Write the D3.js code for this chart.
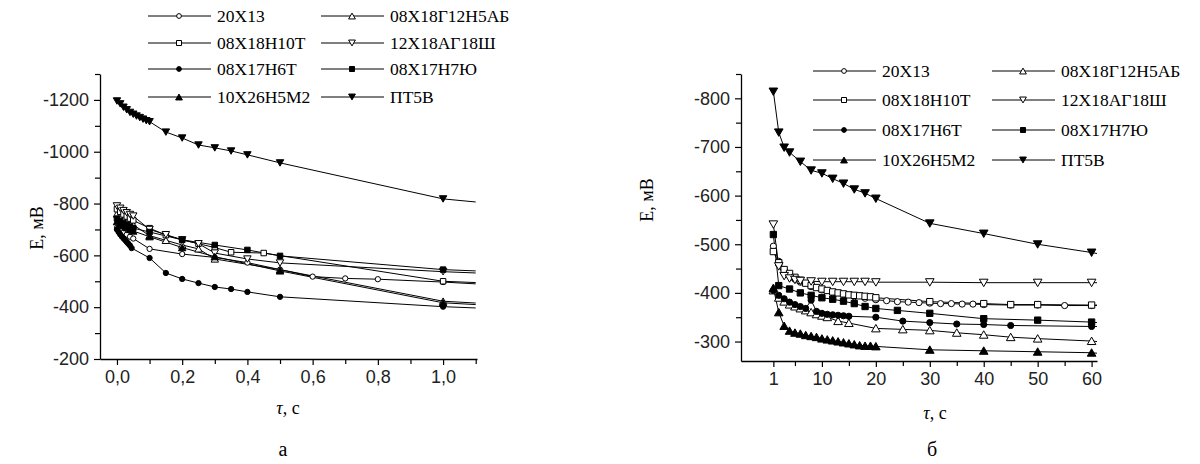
<!DOCTYPE html>
<html><head><meta charset="utf-8">
<script src="https://cdn.jsdelivr.net/npm/d3@7"></script>
<style>body{margin:0;background:#fff}</style>
</head><body><svg id="c" width="1200" height="464"></svg>
<script>
// ---------- DATA ----------
const seriesNames = ["20Х13","08Х18Г12Н5АБ","08Х18Н10Т","12Х18АГ18Ш","08Х17Н6Т","08Х17Н7Ю","10Х26Н5М2","ПТ5В"];
const seriesMarkers = ["circleOpen","triUpOpen","squareOpen","triDownOpen","circle","square","triUp","triDown"];

// panel а : time (s) and potential (mV)
const leftTimes = [
  [0,0.01,0.02,0.03,0.04,0.05,0.1,0.2,0.3,0.4,0.5,0.6,0.7,0.8,1.0],
  [0,0.01,0.02,0.03,0.04,0.05,0.1,0.15,0.2,0.25,0.3,0.5,1.0],
  [0,0.01,0.02,0.03,0.04,0.05,0.1,0.15,0.2,0.25,0.3,0.35,0.45,1.0],
  [0,0.01,0.02,0.03,0.04,0.05,0.1,0.15,0.2,0.25,0.3,0.4,0.5,1.0],
  [0,0.005,0.01,0.015,0.02,0.025,0.03,0.035,0.04,0.045,0.1,0.15,0.2,0.25,0.3,0.35,0.4,0.5,1.0],
  [0,0.01,0.02,0.03,0.04,0.05,0.1,0.2,0.3,0.4,0.5,1.0],
  [0,0.01,0.02,0.03,0.04,0.05,0.1,0.2,0.3,0.5,1.0],
  [0,0.01,0.02,0.03,0.04,0.05,0.06,0.07,0.08,0.09,0.1,0.15,0.2,0.25,0.3,0.35,0.4,0.5,1.0]
];
const leftValues = [
  [-706,-697,-688,-680,-672,-665,-625,-605,-592,-572,-545,-518,-511,-508,-497],
  [-760,-750,-740,-732,-725,-718,-676,-658,-640,-625,-586,-545,-423],
  [-778,-768,-758,-750,-742,-735,-705,-678,-660,-645,-630,-612,-609,-500],
  [-791,-782,-773,-765,-758,-752,-700,-680,-660,-645,-609,-586,-571,-537],
  [-700,-690,-681,-673,-666,-659,-652,-645,-638,-628,-590,-532,-509,-493,-478,-470,-459,-440,-402],
  [-742,-733,-725,-718,-711,-705,-690,-660,-640,-621,-598,-545],
  [-730,-722,-714,-707,-700,-694,-672,-630,-595,-540,-417],
  [-1196,-1185,-1172,-1162,-1152,-1145,-1138,-1132,-1126,-1120,-1116,-1076,-1053,-1026,-1015,-1003,-988,-957,-818]
];
const leftEndTime = 1.1;
const leftEndValues = [-490,-416,-495,-532,-397,-540,-410,-806];

// panel б
const rightTimes = [
  [1,2,3,4,5,6,8,10,12,14,16,18,20,22,24,26,28,30,32,34,36,38,40,45,50,55,60],
  [1,2,3,4,5,6,7,8,9,10,11,13,15,20,25,30,35,40,45,50,60],
  [1,2,3,4,5,6,7,8,9,10,11,12,13,14,15,16,17,18,19,20,30,40,45,50,60],
  [1,2,3,4,5,6,8,10,12,14,16,18,20,30,40,50,60],
  [1,2,3,4,5,6,7,8,9,10,11,12,13,14,15,20,25,30,35,40,45,60],
  [1,2,4,6,8,10,12,14,16,18,20,24,30,40,50,60],
  [1,2,3,4,5,6,7,8,9,10,11,12,13,14,15,16,17,18,19,20,30,40,50,60],
  [1,2,3,4,6,8,10,12,14,16,18,20,30,40,50,60]
];
const rightValues = [
  [-496,-465,-447,-436,-428,-422,-413,-406,-400,-396,-392,-389,-386,-384,-382,-381,-380,-379,-378,-378,-377,-377,-376,-375,-375,-374,-374],
  [-405,-390,-382,-376,-372,-368,-364,-360,-356,-353,-350,-342,-338,-327,-325,-323,-318,-314,-309,-306,-301],
  [-485,-462,-448,-440,-432,-426,-420,-415,-411,-408,-405,-402,-400,-398,-396,-395,-394,-393,-392,-390,-382,-378,-376,-376,-375],
  [-541,-455,-435,-430,-427,-425,-424,-423,-423,-423,-423,-423,-422,-422,-421,-421,-421],
  [-405,-395,-388,-381,-376,-372,-368,-385,-362,-358,-356,-355,-354,-353,-352,-350,-342,-339,-336,-335,-333,-331],
  [-520,-415,-408,-400,-395,-390,-387,-383,-378,-372,-368,-364,-358,-347,-344,-340],
  [-410,-360,-332,-322,-318,-316,-313,-311,-309,-306,-304,-302,-300,-298,-296,-294,-292,-291,-291,-290,-283,-281,-279,-277],
  [-814,-730,-699,-689,-670,-652,-646,-635,-625,-613,-605,-594,-543,-522,-500,-483]
];
const rightEndTime = 61;
const rightEndValues = [-374,-300,-375,-421,-331,-339,-276,-481];

// ticks
const leftXTicks = [0,0.2,0.4,0.6,0.8,1.0];
const leftXMinor = [0.1,0.3,0.5,0.7,0.9,1.1];
const leftYTicks = [-200,-400,-600,-800,-1000,-1200];
const leftYMinor = [-300,-500,-700,-900,-1100,-1300];
const rightXTicks = [1,10,20,30,40,50,60];
const rightXMinor = [5,15,25,35,45,55];
const rightYTicks = [-300,-400,-500,-600,-700,-800];
const rightYMinor = [-350,-450,-550,-650,-750,-850];

// ---------- DRAW ----------
const svg = d3.select("#c");
const SANS = "'Liberation Sans', Arial, sans-serif";
const SERIF = "'Liberation Serif', 'Times New Roman', serif";

function markerPath(kind, size) {
  let type = d3.symbolCircle;
  if (kind.startsWith("square")) type = d3.symbolSquare;
  if (kind.startsWith("tri")) type = d3.symbolTriangle;
  return d3.symbol().type(type).size(size)();
}
function drawMarker(g, kind, x, y, sizes) {
  const s = kind.startsWith("circle") ? sizes.c : kind.startsWith("square") ? sizes.s : sizes.t;
  const open = kind.endsWith("Open");
  const rot = kind.startsWith("triDown") ? " rotate(180)" : "";
  const dy = kind.startsWith("triUp") ? 1 : kind.startsWith("triDown") ? -1 : 0;
  g.append("path").attr("d", markerPath(kind, s))
    .attr("transform", `translate(${x},${y + dy})${rot}`)
    .attr("fill", open ? "#fff" : "#000")
    .attr("stroke", "#000").attr("stroke-width", 1);
}

function panel(opts) {
  const g = svg.append("g");
  const x = d3.scaleLinear().domain(opts.xDomain).range(opts.xRange);
  const y = d3.scaleLinear().domain(opts.yDomain).range(opts.yRange);

  g.append("g").attr("transform", `translate(0,${opts.yRange[0]})`)
    .call(d3.axisBottom(x).tickValues(opts.xTicks).tickSize(6).tickSizeOuter(0).tickPadding(5).tickFormat(opts.xFmt));
  g.append("g").attr("transform", `translate(0,${opts.yRange[0]})`)
    .call(d3.axisBottom(x).tickValues(opts.xMinor).tickSize(5).tickSizeOuter(0).tickFormat(""))
    .select(".domain").remove();
  g.append("g").attr("transform", `translate(${opts.xRange[0]},0)`)
    .call(d3.axisLeft(y).tickValues(opts.yTicks).tickSize(6).tickSizeOuter(0).tickPadding(5).tickFormat(d => "-" + Math.abs(d)));
  g.append("g").attr("transform", `translate(${opts.xRange[0]},0)`)
    .call(d3.axisLeft(y).tickValues(opts.yMinor).tickSize(5).tickSizeOuter(0).tickFormat(""))
    .select(".domain").remove();
  g.selectAll(".domain").attr("stroke", "#000").attr("stroke-width", 1.3);
  g.selectAll(".tick line").attr("stroke", "#000").attr("stroke-width", 1.2);
  g.selectAll(".tick text").attr("font-family", SANS).attr("font-size", 18).attr("fill", "#222");

  const line = d3.line().x(d => x(d[0])).y(d => y(d[1]));
  opts.times.forEach((ts, i) => {
    const pts = ts.map((t, j) => [t, opts.values[i][j]]);
    const all = pts.concat([[opts.endTime, opts.endValues[i]]]);
    g.append("path").attr("d", line(all)).attr("fill", "none").attr("stroke", "#000").attr("stroke-width", 1);
  });
  opts.times.forEach((ts, i) => {
    ts.forEach((t, j) => drawMarker(g, seriesMarkers[i], x(t), y(opts.values[i][j]), opts.msize));
  });

  g.append("text").attr("transform", `translate(${opts.yTitlePos[0]},${opts.yTitlePos[1]}) rotate(-90)`)
    .attr("text-anchor", "middle").attr("font-family", SERIF).attr("font-size", 18).text("E, мВ");
  const xt = g.append("text").attr("x", opts.xTitlePos[0]).attr("y", opts.xTitlePos[1])
    .attr("text-anchor", "middle").attr("font-family", SERIF).attr("font-size", 18);
  xt.append("tspan").attr("font-style", "italic").text("τ");
  xt.append("tspan").text(", с");
  g.append("text").attr("x", opts.subPos[0]).attr("y", opts.subPos[1]).attr("text-anchor", "middle")
    .attr("font-family", SERIF).attr("font-size", 20).text(opts.sub);

  const lg = g.append("g");
  seriesNames.forEach((name, i) => {
    const col = i % 2, row = Math.floor(i / 2);
    const lx = opts.legX[col], ly = opts.legY[row];
    lg.append("line").attr("x1", lx).attr("x2", lx + 63).attr("y1", ly).attr("y2", ly)
      .attr("stroke", "#000").attr("stroke-width", 1);
    drawMarker(lg, seriesMarkers[i], lx + 31, ly, {c: 18, s: 25, t: 20});
    lg.append("text").attr("x", lx + 69).attr("y", ly + 6).attr("font-family", SERIF)
      .attr("font-size", 17.5).text(name);
  });
}

panel({
  xDomain: [-0.052, 1.104], xRange: [100, 477],
  yDomain: [-200, -1300], yRange: [359, 74],
  xTicks: leftXTicks, xMinor: leftXMinor, yTicks: leftYTicks, yMinor: leftYMinor,
  xFmt: d => d3.format(".1f")(d).replace(".", ","),
  times: leftTimes, values: leftValues, endTime: leftEndTime, endValues: leftEndValues,
  msize: {c: 22, s: 30, t: 24},
  yTitlePos: [43, 228], xTitlePos: [288, 414], subPos: [283, 456], sub: "а",
  legX: [148, 321], legY: [16, 43, 69, 97]
});
panel({
  xDomain: [-5, 61], xRange: [741, 1097],
  yDomain: [-260, -850], yRange: [361, 74],
  xTicks: rightXTicks, xMinor: rightXMinor, yTicks: rightYTicks, yMinor: rightYMinor,
  xFmt: d => String(d),
  times: rightTimes, values: rightValues, endTime: rightEndTime, endValues: rightEndValues,
  msize: {c: 30, s: 40, t: 32},
  yTitlePos: [653, 200], xTitlePos: [935, 419], subPos: [932, 456], sub: "б",
  legX: [813, 992], legY: [71, 100, 130, 160]
});
</script>
</body></html>
